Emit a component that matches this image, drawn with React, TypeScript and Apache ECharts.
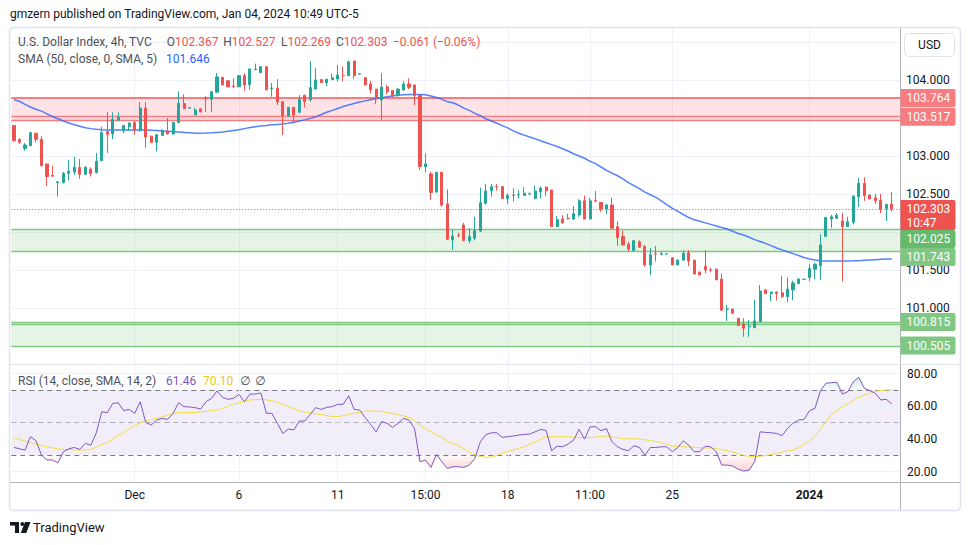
import React, { useEffect, useRef } from "react";
import * as echarts from "echarts";

// ---------- DATA ----------
// candles: [open, close, low, high], 4h bars
const candles: number[][] = [
  [103.40, 103.20, 103.19, 103.40], [103.22, 103.18, 103.16, 103.23], [103.10, 103.145, 103.07, 103.17], [103.136, 103.307, 103.13, 103.32],
  [103.30, 103.22, 103.18, 103.30], [103.22, 102.87, 102.87, 103.26], [102.895, 102.73, 102.605, 102.895], [102.745, 102.735, 102.73, 102.87],
  [102.650, 102.660, 102.465, 102.665], [102.65, 102.77, 102.64, 102.79], [102.77, 102.80, 102.68, 102.95], [102.79, 102.85, 102.75, 102.99],
  [102.85, 102.76, 102.70, 102.96], [102.76, 102.85, 102.75, 102.87], [102.825, 102.77, 102.73, 102.85], [102.78, 102.93, 102.77, 103.04],
  [102.94, 103.307, 102.93, 103.385], [103.32, 103.285, 103.04, 103.58], [103.29, 103.483, 103.22, 103.575], [103.47, 103.51, 103.47, 103.575],
  [103.33, 103.40, 103.30, 103.41], [103.385, 103.434, 103.33, 103.44], [103.44, 103.34, 103.28, 103.46], [103.34, 103.63, 103.32, 103.71],
  [103.63, 103.25, 103.11, 103.71], [103.26, 103.18, 103.17, 103.27], [103.18, 103.28, 103.06, 103.29], [103.27, 103.34, 103.27, 103.35],
  [103.33, 103.29, 103.28, 103.50], [103.29, 103.44, 103.28, 103.45], [103.44, 103.693, 103.43, 103.846], [103.69, 103.62, 103.62, 103.81],
  [103.63, 103.635, 103.62, 103.645], [103.54, 103.605, 103.54, 103.635], [103.62, 103.58, 103.575, 103.625], [103.765, 103.755, 103.58, 103.79],
  [103.746, 103.846, 103.575, 103.85], [103.84, 104.04, 103.83, 104.09], [104.035, 103.934, 103.93, 104.04], [103.99, 103.91, 103.90, 103.99],
  [103.92, 103.915, 103.89, 104.02], [103.91, 104.057, 103.91, 104.06], [104.057, 103.934, 103.86, 104.09], [103.94, 104.145, 103.87, 104.15],
  [104.135, 104.145, 104.13, 104.215], [104.096, 104.175, 104.09, 104.18], [104.175, 103.87, 103.87, 104.175], [103.885, 103.895, 103.78, 103.96],
  [103.89, 103.71, 103.67, 104.01], [103.715, 103.526, 103.276, 103.715], [103.526, 103.64, 103.52, 103.645], [103.64, 103.54, 103.43, 103.645],
  [103.575, 103.746, 103.565, 103.80], [103.80, 103.715, 103.636, 103.80], [103.74, 103.90, 103.715, 104.25], [103.88, 104.00, 103.88, 104.154],
  [104.004, 103.965, 103.96, 104.01], [103.965, 104.01, 103.92, 104.015], [104.004, 104.03, 104.0, 104.08], [104.013, 104.066, 103.98, 104.197],
  [104.062, 104.058, 103.98, 104.175], [104.057, 104.24, 104.05, 104.254], [104.25, 104.057, 104.017, 104.25], [104.078, 104.082, 104.07, 104.09],
  [104.03, 103.934, 103.93, 104.035], [103.947, 103.873, 103.82, 103.987], [103.88, 103.75, 103.684, 103.88], [103.737, 103.908, 103.474, 104.088],
  [103.908, 103.846, 103.81, 103.934], [103.86, 103.79, 103.78, 103.87], [103.80, 103.88, 103.78, 103.89], [103.868, 103.947, 103.86, 103.987],
  [103.947, 103.904, 103.88, 104.02], [103.934, 103.794, 103.67, 103.94], [103.80, 102.86, 102.816, 103.81], [102.86, 102.895, 102.786, 103.035],
  [102.763, 102.52, 102.42, 102.794], [102.53, 102.786, 102.51, 102.79], [102.786, 102.355, 102.33, 102.79], [102.37, 101.904, 101.90, 102.56],
  [101.895, 101.947, 101.763, 102.035], [101.955, 101.95, 101.93, 101.99], [102.092, 101.886, 101.886, 102.12], [101.886, 101.94, 101.85, 102.05],
  [101.917, 102.017, 101.89, 102.2], [102.013, 102.386, 102.0, 102.584], [102.378, 102.54, 102.36, 102.63], [102.543, 102.596, 102.465, 102.63],
  [102.60, 102.595, 102.545, 102.63], [102.596, 102.44, 102.44, 102.60], [102.44, 102.48, 102.37, 102.51], [102.485, 102.48, 102.40, 102.575],
  [102.488, 102.492, 102.44, 102.55], [102.48, 102.51, 102.48, 102.59], [102.498, 102.502, 102.49, 102.52], [102.44, 102.54, 102.43, 102.61],
  [102.53, 102.575, 102.44, 102.60], [102.59, 102.543, 102.47, 102.60], [102.553, 102.07, 102.07, 102.553], [102.07, 102.16, 102.07, 102.21],
  [102.17, 102.12, 102.11, 102.22], [102.182, 102.178, 102.16, 102.24], [102.17, 102.24, 102.16, 102.34], [102.224, 102.41, 102.20, 102.43],
  [102.41, 102.17, 102.17, 102.48], [102.17, 102.41, 102.17, 102.45], [102.412, 102.408, 102.39, 102.54], [102.39, 102.30, 102.265, 102.39],
  [102.30, 102.355, 102.24, 102.37], [102.355, 102.05, 102.04, 102.45], [102.07, 101.925, 101.816, 102.14], [101.94, 101.83, 101.82, 102.02],
  [101.84, 101.776, 101.745, 101.87], [101.754, 101.886, 101.754, 101.89], [101.87, 101.80, 101.79, 101.89], [101.81, 101.566, 101.544, 101.83],
  [101.566, 101.70, 101.434, 101.79], [101.712, 101.708, 101.61, 101.816], [101.708, 101.712, 101.69, 101.745], [101.709, 101.711, 101.705, 101.715],
  [101.66, 101.566, 101.566, 101.67], [101.566, 101.63, 101.566, 101.64], [101.63, 101.72, 101.62, 101.76], [101.727, 101.618, 101.55, 101.76],
  [101.63, 101.447, 101.447, 101.63], [101.47, 101.434, 101.434, 101.48], [101.55, 101.50, 101.456, 101.763], [101.502, 101.498, 101.47, 101.53],
  [101.51, 101.37, 101.37, 101.52], [101.38, 100.97, 100.96, 101.45], [100.985, 100.99, 100.83, 101.04], [100.987, 100.93, 100.92, 100.987],
  [100.865, 100.77, 100.77, 100.865], [100.786, 100.733, 100.62, 100.865], [100.752, 100.756, 100.62, 100.84], [100.74, 100.83, 100.74, 101.11],
  [100.82, 101.224, 100.82, 101.30], [101.237, 101.19, 101.185, 101.25], [101.19, 101.21, 101.09, 101.215], [101.21, 101.19, 101.10, 101.215],
  [101.20, 101.15, 101.13, 101.42], [101.15, 101.25, 101.08, 101.40], [101.237, 101.33, 101.10, 101.36], [101.32, 101.38, 101.315, 101.39],
  [101.377, 101.379, 101.376, 101.38], [101.40, 101.52, 101.35, 101.575], [101.51, 101.575, 101.38, 101.60], [101.557, 101.83, 101.37, 101.97],
  [101.94, 102.19, 101.94, 102.20], [102.17, 102.20, 102.055, 102.225], [102.18, 102.22, 102.18, 102.25], [102.145, 102.07, 101.347, 102.25],
  [102.07, 102.136, 102.07, 102.20], [102.128, 102.474, 102.10, 102.474], [102.465, 102.64, 102.33, 102.707], [102.64, 102.48, 102.41, 102.72],
  [102.487, 102.434, 102.434, 102.50], [102.45, 102.41, 102.37, 102.50], [102.42, 102.30, 102.25, 102.50], [102.31, 102.365, 102.145, 102.365],
  [102.367, 102.303, 102.269, 102.527],
];

const sma50: number[] = [
  103.74, 103.72, 103.68, 103.645, 103.615, 103.59, 103.555, 103.52, 103.49, 103.46,
  103.435, 103.41, 103.39, 103.372, 103.36, 103.352, 103.346, 103.343, 103.342, 103.342,
  103.342, 103.342, 103.342, 103.342, 103.342, 103.34, 103.335, 103.33, 103.325, 103.32,
  103.315, 103.31, 103.305, 103.30, 103.30, 103.302, 103.305, 103.31, 103.315, 103.325,
  103.335, 103.345, 103.36, 103.375, 103.385, 103.395, 103.40, 103.41, 103.415, 103.42,
  103.43, 103.445, 103.46, 103.475, 103.495, 103.515, 103.545, 103.575, 103.60, 103.625,
  103.65, 103.67, 103.69, 103.71, 103.725, 103.74, 103.755, 103.765, 103.78, 103.79,
  103.80, 103.805, 103.81, 103.81, 103.81, 103.805, 103.79, 103.77, 103.745, 103.715,
  103.70, 103.67, 103.63, 103.60, 103.56, 103.53, 103.49, 103.46, 103.43, 103.40,
  103.37, 103.33, 103.30, 103.275, 103.25, 103.225, 103.20, 103.175, 103.15, 103.125,
  103.095, 103.065, 103.03, 103.00, 102.97, 102.93, 102.90, 102.855, 102.81, 102.775,
  102.74, 102.70, 102.65, 102.61, 102.57, 102.525, 102.49, 102.455, 102.41, 102.36,
  102.31, 102.27, 102.23, 102.19, 102.16, 102.14, 102.12, 102.10, 102.08, 102.06,
  102.04, 102.01, 101.98, 101.96, 101.93, 101.90, 101.875, 101.85, 101.82, 101.79,
  101.765, 101.74, 101.715, 101.69, 101.665, 101.645, 101.63, 101.62, 101.618, 101.618,
  101.618, 101.618, 101.618, 101.62, 101.623, 101.628, 101.632, 101.636, 101.64, 101.644,
  101.646,
];

const rsi14: number[] = [
  34.8, 34.0, 33.2, 41.4, 38.9, 30.1, 27.1, 27.1, 25.4, 32.2,
  34.0, 34.8, 33.6, 37.3, 36.1, 43.8, 56.7, 56.1, 61.8, 62.2,
  57.3, 58.1, 55.7, 62.8, 50.2, 48.5, 51.6, 52.6, 52.0, 55.7,
  62.2, 59.8, 59.6, 59.2, 58.3, 62.8, 64.9, 69.4, 65.5, 64.3,
  64.9, 67.3, 62.8, 67.5, 67.5, 68.2, 55.7, 55.7, 49.6, 43.4,
  46.1, 45.5, 51.0, 51.0, 55.1, 59.2, 58.1, 59.4, 59.8, 61.2,
  61.2, 66.5, 58.1, 57.7, 53.2, 48.9, 44.4, 50.6, 49.6, 47.1,
  49.6, 52.6, 51.6, 46.5, 26.0, 27.1, 22.6, 30.5, 26.0, 21.9,
  23.0, 23.0, 22.6, 24.0, 28.1, 38.3, 42.6, 43.8, 43.8, 41.0,
  41.4, 41.8, 42.4, 42.8, 43.0, 44.4, 45.9, 45.1, 32.8, 35.6,
  35.2, 36.9, 39.3, 45.9, 39.9, 47.5, 47.5, 45.1, 46.3, 38.3,
  35.2, 33.6, 32.8, 35.8, 34.8, 30.1, 34.8, 34.8, 35.2, 35.2,
  32.2, 34.8, 38.9, 36.1, 32.2, 32.2, 35.6, 35.2, 32.2, 24.0,
  24.0, 23.4, 21.5, 20.3, 20.9, 26.0, 44.4, 44.0, 43.8, 43.4,
  42.0, 46.5, 49.6, 51.6, 52.0, 57.3, 58.8, 69.6, 74.1, 74.5,
  74.7, 67.5, 69.0, 75.1, 77.8, 71.0, 69.6, 68.0, 63.9, 64.3,
  61.46,
];

const rsiMa: number[] = [
  40.5, 39.7, 38.8, 37.6, 36.8, 36.0, 35.2, 34.5, 33.9, 33.7,
  33.5, 33.3, 33.2, 33.3, 33.5, 35.0, 36.6, 37.8, 39.9, 42.3,
  43.8, 46.2, 48.3, 50.0, 51.0, 51.9, 52.6, 53.6, 54.6, 55.8,
  56.1, 56.1, 56.2, 56.3, 56.5, 56.9, 57.3, 57.8, 58.8, 60.0,
  61.2, 62.1, 63.0, 63.9, 64.1, 64.3, 64.0, 63.4, 62.5, 61.0,
  59.8, 58.5, 57.2, 56.5, 56.0, 55.4, 54.9, 54.3, 53.8, 53.7,
  54.3, 55.0, 55.7, 56.4, 57.0, 57.1, 57.0, 56.8, 56.2, 55.6,
  54.8, 54.2, 53.2, 51.5, 48.5, 46.3, 44.3, 42.4, 40.8, 38.6,
  37.2, 35.8, 34.0, 32.0, 30.3, 29.3, 28.8, 28.9, 29.9, 31.3,
  32.4, 33.3, 34.3, 35.3, 36.8, 38.3, 39.8, 41.3, 41.4, 41.4,
  41.4, 41.3, 41.2, 41.0, 40.9, 40.8, 41.1, 41.5, 41.8, 41.3,
  40.7, 40.1, 40.1, 40.1, 40.0, 39.5, 39.0, 38.5, 37.6, 36.7,
  35.6, 35.4, 35.2, 35.1, 34.9, 34.6, 34.5, 34.4, 34.2, 33.5,
  32.8, 32.0, 31.0, 30.0, 29.1, 29.2, 29.4, 29.8, 30.5, 31.2,
  32.0, 32.6, 33.2, 34.8, 36.5, 39.0, 42.0, 46.0, 50.5, 54.9,
  57.5, 59.6, 61.6, 63.6, 65.5, 67.0, 68.1, 69.2, 69.7, 70.0,
  70.1,
];

const xTickIndex = [22, 41, 59, 75, 90, 105, 120, 145];
const xTickText = ["Dec", "6", "11", "15:00", "18", "11:00", "25", "2024"];
const priceGridLevels = [104.5, 104, 103.5, 103, 102.5, 102, 101.5, 101, 100.5];
const priceAxisLabels = [104, 103, 102.5, 101.5, 101];
const rsiGridLevels = [80, 60, 40, 20];
const rsiGuideLevels = [70, 50, 30];
const redZone = [103.764, 103.47];
const redZoneLines = [103.764, 103.517, 103.47];
const greenZoneA = [102.025, 101.743];
const greenZoneB = [100.815, 100.505];
const greenZoneLines = [102.025, 101.743, 100.815, 100.79, 100.505];
const lastPrice = 102.303;
const countdown = "10:47";
const badgeValues = [103.764, 103.517, 102.025, 101.743, 100.815, 100.505];
const badgeColors = ["#f77c80", "#f77c80", "#66bb6a", "#81c784", "#81c784", "#81c784"];
const ohlcLegend = ["102.367", "102.527", "102.269", "102.303"];
const changeLegend = "\u22120.061 (\u22120.06%)";
const smaLegend = "101.646";
const rsiLegend = ["61.46", "70.10"];

// ---------- LAYOUT ----------
const FONT = "Roboto, 'Noto Sans', 'DejaVu Sans', sans-serif";
const PRICE_MIN = 100.263;
const PRICE_MAX = 104.684;
const RSI_MIN = 13.64;
const RSI_MAX = 85.31;
const SLOTS = 162;
const GRID_LINE = "#eef1f7";
const LABEL_GRAY = "#4d505a";
const TEXT_DARK = "#131722";

function buildOption(): any {
  const cats = Array.from({ length: SLOTS }, (_, i) => String(i));
  const hidden = { type: "line", data: [], symbol: "none", silent: true, clip: false };
  const vLine = (i: number) => ({
    xAxis: i,
    lineStyle: { color: GRID_LINE, width: 1, type: "solid" },
    label: { show: false },
  });
  return {
    animation: false,
    textStyle: { fontFamily: FONT },
    grid: [
      { left: 11.3, right: 70, top: 28, height: 336 },
      { left: 11.3, right: 70, top: 365, height: 117 },
    ],
    xAxis: [
      {
        type: "category", gridIndex: 0, data: cats, boundaryGap: true,
        axisLine: { show: false }, axisTick: { show: false }, axisLabel: { show: false }, splitLine: { show: false },
      },
      {
        type: "category", gridIndex: 1, data: cats, boundaryGap: true,
        axisLine: { show: false }, axisTick: { show: false }, splitLine: { show: false },
        axisLabel: {
          interval: (i: number) => xTickIndex.indexOf(i) >= 0,
          formatter: (v: string) => {
            const k = xTickIndex.indexOf(Number(v));
            const t = k >= 0 ? xTickText[k] : "";
            return t === "2024" ? "{b|" + t + "}" : t;
          },
          color: TEXT_DARK, fontSize: 12, margin: 7, fontFamily: FONT,
          rich: { b: { fontWeight: "bold", fontSize: 12, color: TEXT_DARK, fontFamily: FONT } },
        },
      },
    ],
    yAxis: [
      { type: "value", gridIndex: 0, min: PRICE_MIN, max: PRICE_MAX, show: false },
      { type: "value", gridIndex: 1, min: RSI_MIN, max: RSI_MAX, show: false },
    ],
    series: [
      {
        ...hidden, name: "priceGrid", xAxisIndex: 0, yAxisIndex: 0, z: 0,
        markLine: {
          silent: true, symbol: ["none", "none"], z: 0, animation: false,
          data: [
            ...priceGridLevels.map((v) => ({
              yAxis: v,
              lineStyle: { color: GRID_LINE, width: 1, type: "solid" },
              label: {
                show: priceAxisLabels.indexOf(v) >= 0, position: "end", formatter: v.toFixed(3),
                color: TEXT_DARK, fontSize: 12, distance: 6, fontFamily: FONT,
              },
            })),
            ...xTickIndex.map(vLine),
          ],
        },
      },
      {
        ...hidden, name: "zones", xAxisIndex: 0, yAxisIndex: 0, z: 1,
        markArea: {
          silent: true, z: 1,
          data: [
            [{ yAxis: redZone[0], itemStyle: { color: "rgba(242,54,69,0.14)" } }, { yAxis: redZone[1] }],
            [{ yAxis: greenZoneA[0], itemStyle: { color: "rgba(76,175,80,0.14)" } }, { yAxis: greenZoneA[1] }],
            [{ yAxis: greenZoneB[0], itemStyle: { color: "rgba(76,175,80,0.14)" } }, { yAxis: greenZoneB[1] }],
          ],
        },
        markLine: {
          silent: true, symbol: ["none", "none"], z: 1,
          data: [
            ...redZoneLines.map((v, k) => ({
              yAxis: v, lineStyle: { color: "#f77c80", width: k === 0 ? 2 : 1.3, type: "solid" }, label: { show: false },
            })),
            ...greenZoneLines.map((v) => ({
              yAxis: v, lineStyle: { color: "#81c784", width: 1.3, type: "solid" }, label: { show: false },
            })),
          ],
        },
      },
      {
        type: "line", name: "SMA", xAxisIndex: 0, yAxisIndex: 0, data: sma50, symbol: "none", silent: true, z: 3,
        lineStyle: { color: "#2962ff", width: 1.5, opacity: 0.8 },
      },
      {
        type: "candlestick", name: "DXY", xAxisIndex: 0, yAxisIndex: 0, data: candles, barWidth: 2.6, z: 4, silent: true,
        itemStyle: { color: "#26a69a", color0: "#ef5350", borderColor: "#26a69a", borderColor0: "#ef5350", borderWidth: 1 },
        markLine: {
          silent: true, symbol: ["none", "none"], z: 5,
          data: [{ yAxis: lastPrice, lineStyle: { color: "#ef5350", type: [1, 2], width: 1 }, label: { show: false } }],
        },
      },
      {
        ...hidden, name: "rsiGrid", xAxisIndex: 1, yAxisIndex: 1, z: 0,
        markArea: {
          silent: true, z: 0,
          data: [[{ yAxis: 70, itemStyle: { color: "rgba(126,87,194,0.1)" } }, { yAxis: 30 }]],
        },
        markLine: {
          silent: true, symbol: ["none", "none"], z: 1,
          data: [
            ...rsiGridLevels.map((v) => ({
              yAxis: v,
              lineStyle: { color: GRID_LINE, width: 1, type: "solid" },
              label: { show: true, position: "end", formatter: v.toFixed(2), color: TEXT_DARK, fontSize: 12, distance: 7, fontFamily: FONT },
            })),
            ...rsiGuideLevels.map((v) => ({
              yAxis: v,
              lineStyle: { color: v === 50 ? "rgba(120,123,134,0.55)" : "#787b86", width: 1, type: [5, 4] },
              label: { show: false },
            })),
            ...xTickIndex.map(vLine),
          ],
        },
      },
      {
        type: "line", name: "rsiOS", xAxisIndex: 1, yAxisIndex: 1, silent: true, z: 2, symbol: "none",
        data: rsi14.map((v) => Math.min(v, 30)),
        lineStyle: { width: 0, opacity: 0 },
        areaStyle: {
          origin: 30,
          color: new echarts.graphic.LinearGradient(0, 0, 0, 1, [
            { offset: 0, color: "rgba(242,54,69,0.04)" },
            { offset: 1, color: "rgba(242,54,69,0.32)" },
          ]),
        },
      },
      {
        type: "line", name: "rsiOB", xAxisIndex: 1, yAxisIndex: 1, silent: true, z: 2, symbol: "none",
        data: rsi14.map((v) => Math.max(v, 70)),
        lineStyle: { width: 0, opacity: 0 },
        areaStyle: {
          origin: 70,
          color: new echarts.graphic.LinearGradient(0, 0, 0, 1, [
            { offset: 0, color: "rgba(8,153,129,0.28)" },
            { offset: 1, color: "rgba(8,153,129,0.04)" },
          ]),
        },
      },
      {
        type: "line", name: "RSI MA", xAxisIndex: 1, yAxisIndex: 1, data: rsiMa, symbol: "none", silent: true, z: 3,
        lineStyle: { color: "#f5dc3c", width: 1 },
      },
      {
        type: "line", name: "RSI", xAxisIndex: 1, yAxisIndex: 1, data: rsi14, symbol: "none", silent: true, z: 4,
        lineStyle: { color: "#7e57c2", width: 1 },
      },
    ],
  };
}

function txt(x: number, y: number, text: string, fill: string, extra: any = {}, z = 60) {
  return {
    type: "text", x, y, silent: true, z,
    style: { text, fill, fontSize: 12, fontFamily: FONT, verticalAlign: "middle", align: "left", ...extra },
  };
}

function legendPair(x: number, y: number, letter: string, value: string) {
  return {
    type: "text", x, y, silent: true, z: 60,
    style: {
      text: "{l|" + letter + "}{v|" + value + "}",
      verticalAlign: "middle", align: "left", fontSize: 12, fontFamily: FONT,
      rich: {
        l: { fill: LABEL_GRAY, fontSize: 12, fontFamily: FONT },
        v: { fill: "#ef5350", fontSize: 12, fontFamily: FONT },
      },
    },
  };
}

function staticGraphics(): any[] {
  const els: any[] = [
    txt(10, 14, "gmzern published on TradingView.com, Jan 04, 2024 10:49 UTC-5", TEXT_DARK),
    {
      type: "rect", silent: true, z: 50,
      shape: { x: 9.5, y: 27.5, width: 951, height: 483, r: 4 },
      style: { fill: "none", stroke: "#e0e3eb", lineWidth: 1.5 },
    },
    { type: "line", silent: true, z: 50, shape: { x1: 900.5, y1: 28, x2: 900.5, y2: 510 }, style: { stroke: "#b2b5be", lineWidth: 1 } },
    { type: "line", silent: true, z: 50, shape: { x1: 10, y1: 482.5, x2: 960, y2: 482.5 }, style: { stroke: "#b2b5be", lineWidth: 1 } },
    { type: "line", silent: true, z: 50, shape: { x1: 10, y1: 364.5, x2: 960, y2: 364.5 }, style: { stroke: "#e0e3eb", lineWidth: 1 } },
    {
      type: "rect", silent: true, z: 70,
      shape: { x: 904.5, y: 33.5, width: 50, height: 23, r: 4 },
      style: { fill: "#ffffff", stroke: "#e0e3eb", lineWidth: 1 },
    },
    txt(929.5, 45, "USD", TEXT_DARK, { align: "center" }, 75),
    // legend
    txt(18, 42, "U.S. Dollar Index, 4h, TVC", LABEL_GRAY),
    legendPair(166.7, 42, "O", ohlcLegend[0]),
    legendPair(223.3, 42, "H", ohlcLegend[1]),
    legendPair(281, 42, "L", ohlcLegend[2]),
    legendPair(336, 42, "C", ohlcLegend[3]),
    txt(393, 42, changeLegend, "#ef5350"),
    txt(18, 59, "SMA (50, close, 0, SMA, 5)", LABEL_GRAY),
    txt(166, 59, smaLegend, "#2962ff"),
    txt(18, 381, "RSI (14, close, SMA, 14, 2)", LABEL_GRAY),
    txt(166, 381, rsiLegend[0], "#7e57c2"),
    txt(203, 381, rsiLegend[1], "#e8c81a"),
    txt(240, 381, "\u2205", LABEL_GRAY),
    txt(255, 381, "\u2205", LABEL_GRAY),
    // TradingView logo
    { type: "rect", silent: true, z: 60, shape: { x: 10, y: 522, width: 9, height: 3.6 }, style: { fill: TEXT_DARK } },
    { type: "rect", silent: true, z: 60, shape: { x: 15, y: 522, width: 4, height: 11 }, style: { fill: TEXT_DARK } },
    { type: "circle", silent: true, z: 60, shape: { cx: 22.3, cy: 524, r: 1.9 }, style: { fill: TEXT_DARK } },
    {
      type: "polygon", silent: true, z: 60,
      shape: { points: [[25, 522], [30.5, 522], [26.3, 533], [20.8, 533]] },
      style: { fill: TEXT_DARK },
    },
    txt(33, 527.5, "TradingView", TEXT_DARK, { fontSize: 13 }),
  ];
  return els;
}

function badgeGraphics(chart: echarts.ECharts): any[] {
  const yOf = (v: number) => chart.convertToPixel({ yAxisIndex: 0 } as any, v) as unknown as number;
  type B = { top: number; h: number; color: string; lines: string[] };
  const items: B[] = badgeValues.map((v, k) => ({
    top: yOf(v) - 9, h: 18, color: badgeColors[k], lines: [v.toFixed(3)],
  }));
  items.push({ top: yOf(lastPrice) - 9, h: 30, color: "#ef5350", lines: [lastPrice.toFixed(3), countdown] });
  items.sort((a, b) => a.top - b.top);
  let prevBottom = -Infinity;
  const out: any[] = [];
  for (const it of items) {
    const top = Math.max(it.top, prevBottom);
    prevBottom = top + it.h;
    out.push({
      type: "rect", silent: true, z: 80,
      shape: { x: 900.5, y: top, width: 55, height: it.h, r: [0, 2, 2, 0] },
      style: { fill: it.color },
    });
    it.lines.forEach((line, j) => {
      out.push({
        type: "text", silent: true, z: 81, x: 906.5, y: top + 9.3 + j * 13.3,
        style: { text: line, fill: "#ffffff", fontSize: 12, fontFamily: FONT, verticalAlign: "middle", align: "left" },
      });
    });
  }
  return out;
}

export default function App() {
  const ref = useRef<HTMLDivElement>(null);
  useEffect(() => {
    if (!ref.current) return;
    const chart = echarts.init(ref.current, undefined, { renderer: "svg" });
    chart.setOption(buildOption());
    chart.setOption({ graphic: { elements: [...staticGraphics(), ...badgeGraphics(chart)] } });
    return () => chart.dispose();
  }, []);
  return (
    <div
      ref={ref}
      style={{ position: "absolute", left: 0, top: 0, width: 970, height: 545, background: "#ffffff" }}
    />
  );
}
